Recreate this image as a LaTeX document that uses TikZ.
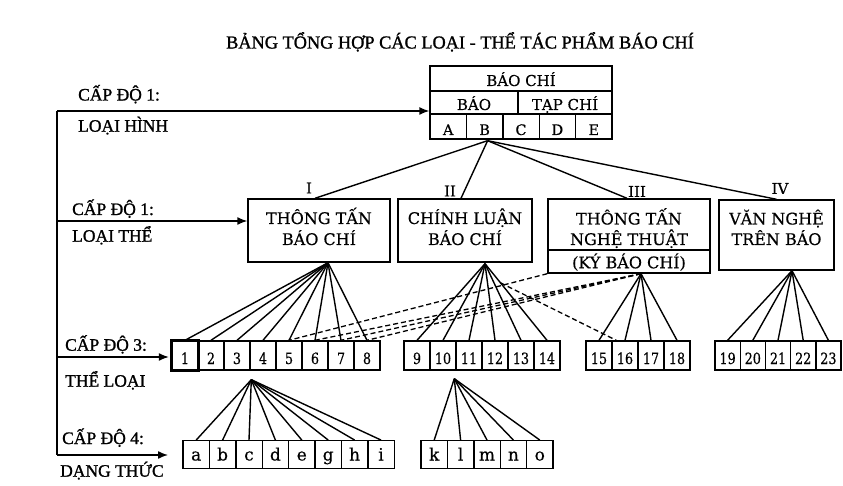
\documentclass[tikz,border=0pt]{standalone}
\usepackage{fontspec}
\setmainfont{DejaVu Serif}[FakeBold=0.4]
\newfontfamily\lbl{Liberation Serif}[FakeBold=1.2]
\newfontfamily\narrowserif{DejaVu Serif}[FakeStretch=0.82,FakeBold=0.4]
\usetikzlibrary{arrows.meta,calc}
\begin{document}
\begin{tikzpicture}[x=1pt,y=-1pt,
  ln/.style={line width=1.4pt},
  dsh/.style={line width=1.3pt, dash pattern=on 5pt off 3pt},
  arr/.style={line width=1.4pt, -{Latex[length=10pt,width=8pt]}},
  cellbox/.style={draw, line width=1.4pt, inner sep=0pt, font=\fontsize{14.5}{16}\selectfont, text height=17.5pt, text depth=0.5pt},
  bigbox/.style={draw, line width=1.4pt, inner sep=0pt},
  btxt/.style={anchor=base, inner sep=0pt, font=\fontsize{16}{21}\selectfont},
  numbox/.style={draw, line width=1.4pt, inner sep=0pt, minimum width=26pt, minimum height=29pt, font=\narrowserif\fontsize{15.5}{16}\selectfont, text height=17.5pt, text depth=0.5pt},
  letbox/.style={draw, line width=1.4pt, inner sep=0pt, minimum width=26.4pt, minimum height=27.5pt, font=\fontsize{17}{18}\selectfont, text height=13pt, text depth=1pt},
  lvl/.style={anchor=base west, inner sep=0pt, font=\lbl\fontsize{17.5}{20}\selectfont},
  roman/.style={inner sep=0pt, font=\fontsize{15}{16}\selectfont}
]
\fill[white] (0,0) rectangle (843,486);
\useasboundingbox (0,0) rectangle (843,486);

% title
\node[anchor=base, inner sep=0pt, font=\lbl\fontsize{18.3}{20}\selectfont] (title) at (460,48.5) {BẢNG TỔNG HỢP CÁC LOẠI - THỂ TÁC PHẨM BÁO CHÍ};

% top table
\node[cellbox, minimum width=182pt, minimum height=25pt, font=\fontsize{15}{16}\selectfont, text height=15.5pt] (baochi) at (521,78.5) {BÁO CHÍ};
\node[cellbox, minimum width=88pt, minimum height=23pt, font=\fontsize{15}{16}\selectfont, text height=15.5pt] (bao) at (474,102.5) {BÁO};
\node[cellbox, minimum width=94pt, minimum height=23pt, font=\fontsize{15}{16}\selectfont, text height=15.5pt] (tapchi) at (565,102.5) {TẠP CHÍ};
\foreach \l [count=\k from 0] in {A,B,C,D,E}
  \node[cellbox, minimum width=36.4pt, minimum height=25pt] (c\l) at ({430+36.4*\k+18.2},126.5) {\l};
\coordinate (apB) at ($(cB.south)+(3,1)$);

% level 2 boxes
\node[bigbox, minimum width=142pt, minimum height=63pt] (b1) at (319,230.5) {};
\node[btxt] (b1t1) at (319,224) {THÔNG TẤN};
\node[btxt] (b1t2) at (319,245) {BÁO CHÍ};
\node[bigbox, minimum width=134pt, minimum height=63pt] (b2) at (465,230.5) {};
\node[btxt] (b2t1) at (465,224) {CHÍNH LUẬN};
\node[btxt] (b2t2) at (465,245) {BÁO CHÍ};
\node[bigbox, minimum width=162pt, minimum height=51pt] (b3top) at (629,224.5) {};
\node[btxt] (b3t1) at (629,224.5) {THÔNG TẤN};
\node[btxt] (b3t2) at (629,245) {NGHỆ THUẬT};
\node[bigbox, minimum width=162pt, minimum height=23pt] (b3bot) at (629,261.5) {};
\node[btxt] (b3t3) at (629,268.3) {(KÝ BÁO CHÍ)};
\node[bigbox, minimum width=115pt, minimum height=70pt] (b4) at (776.5,235) {};
\node[btxt] (b4t1) at (776.5,224.5) {VĂN NGHỆ};
\node[btxt] (b4t2) at (776.5,245) {TRÊN BÁO};

\node[roman] (rI) at (309,188) {I};
\node[roman] (rII) at (450,191) {II};
\node[roman] (rIII) at (637,191.5) {III};
\node[roman] (rIV) at (780,188.5) {IV};

\draw[ln] (apB) -- ($(b1.north)+(-4,0)$);
\draw[ln] (apB) -- ($(b2.north)+(-4,0)$);
\draw[ln] (apB) -- ($(b3top.north)+(-2,0)$);
\draw[ln] (apB) -- (b4.north);

% level 3 boxes
\foreach \i in {1,...,8}
  \node[numbox] (n\i) at ({172+26*(\i-1)+13},355.5) {\i};
\foreach \i [count=\k from 0] in {9,...,14}
  \node[numbox] (n\i) at ({404+26*\k+13},355.5) {\i};
\foreach \i [count=\k from 0] in {15,...,18}
  \node[numbox] (n\i) at ({586+26*\k+13},355.5) {\i};
\foreach \i [count=\k from 0] in {19,...,23}
  \node[numbox, minimum width=25.2pt] (n\i) at ({715+25.2*\k+12.6},355.5) {\i};
\node[draw, line width=3.4pt, inner sep=0pt, minimum width=27pt, minimum height=30pt] (n1b) at (n1) {};

% level 4 boxes
\foreach \l [count=\k from 0] in {a,b,c,d,e,g,h,i}
  \node[letbox] (l\l) at ({183+26.4*\k+13.2},454.5) {\l};
\foreach \l [count=\k from 0] in {k,l,m,n,o}
  \node[letbox] (l\l) at ({421+26.4*\k+13.2},454.5) {\l};

% fans
\coordinate (apI) at ($(b1.south)+(9,0)$);
\coordinate (apII) at ($(b2.south)+(20,1)$);
\coordinate (apIII) at ($(b3bot.south)+(12,0)$);
\coordinate (apIV) at ($(b4.south)+(15.5,0)$);
\coordinate (ap4) at ($(n4.south west)+(2,9)$);
\coordinate (ap11) at ($(n11.south west)+(-1,8)$);

\foreach \i in {1,...,8} \draw[ln] (apI) -- (n\i.north);
\foreach \i in {9,...,14} \draw[ln] (apII) -- (n\i.north);
\foreach \i in {15,...,18} \draw[ln] (apIII) -- (n\i.north);
\foreach \i in {19,...,23} \draw[ln] (apIV) -- (n\i.north);
\foreach \l in {a,b,c,d,e,g,h,i} \draw[ln] (ap4) -- (l\l.north);
\foreach \l in {k,l,m,n,o} \draw[ln] (ap11) -- (l\l.north);

% dashed links
\draw[dsh] (b3bot.south west) -- (n5.north);
\foreach \i in {6,7,8} \draw[dsh] (apIII) -- (n\i.north);
\draw[dsh] ($(apII)!0.25!(n14.north)$) -- ($(n16.north west)+(5,0)$);

% left spine and arrows
\coordinate (v1) at (57,111);
\coordinate (v2) at (57,221);
\coordinate (v3) at (57,357);
\coordinate (v4) at (57,455);
\coordinate (e4) at (168,455);
\draw[ln] (v1) -- (v4);
\draw[arr] (v1) -- (v1 -| bao.west);
\draw[arr] (v2) -- (v2 -| b1.west);
\draw[arr] (v3) -- ($(v3 -| n1b.west)+(-1,0)$);
\draw[arr] (v4) -- (e4);

% level labels
\node[lvl] (t1a) at (78,100.5) {CẤP ĐỘ 1:};
\node[lvl] (t1b) at (78,131.7) {LOẠI HÌNH};
\node[lvl] (t2a) at (72,215) {CẤP ĐỘ 1:};
\node[lvl] (t2b) at (72,241.7) {LOẠI THỂ};
\node[lvl] (t3a) at (65,350.7) {CẤP ĐỘ 3:};
\node[lvl] (t3b) at (65,386.7) {THỂ LOẠI};
\node[lvl] (t4a) at (62,444) {CẤP ĐỘ 4:};
\node[lvl] (t4b) at (60,476.7) {DẠNG THỨC};
\end{tikzpicture}
\end{document}
